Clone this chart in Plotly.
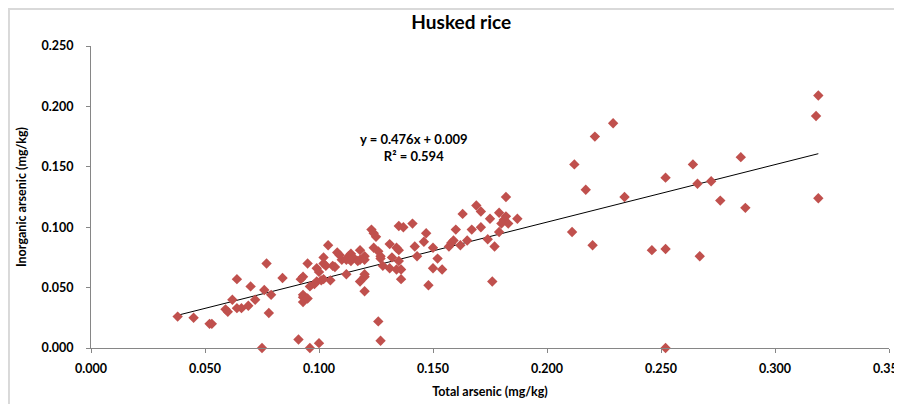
import plotly.graph_objects as go

total_arsenic = [
    0.038, 0.045, 0.052, 0.053, 0.059, 0.060, 0.062, 0.064, 0.064, 0.066,
    0.069, 0.070, 0.072, 0.076, 0.077, 0.078, 0.079, 0.075, 0.084, 0.091,
    0.096, 0.100, 0.092, 0.093, 0.095, 0.093, 0.093, 0.093, 0.095, 0.096,
    0.098, 0.099, 0.099, 0.100, 0.101, 0.102, 0.102, 0.102, 0.103, 0.104,
    0.105, 0.106, 0.107, 0.108, 0.109, 0.110, 0.112, 0.113, 0.114, 0.115,
    0.113, 0.112, 0.114, 0.118, 0.117, 0.118, 0.118, 0.120, 0.120, 0.120,
    0.120, 0.120, 0.123, 0.124, 0.125, 0.124, 0.126, 0.127, 0.126, 0.127,
    0.127, 0.128, 0.131, 0.131, 0.132, 0.134, 0.135, 0.135, 0.134, 0.136,
    0.137, 0.135, 0.136, 0.141, 0.142, 0.143, 0.146, 0.147, 0.148, 0.150,
    0.152, 0.150, 0.154, 0.157, 0.158, 0.159, 0.160, 0.162, 0.163, 0.165,
    0.167, 0.169, 0.171, 0.171, 0.174, 0.175, 0.176, 0.177, 0.179, 0.179,
    0.182, 0.181, 0.182, 0.183, 0.180, 0.187, 0.211, 0.212, 0.217, 0.220,
    0.221, 0.229, 0.234, 0.246, 0.252, 0.252, 0.252, 0.264, 0.266, 0.267,
    0.272, 0.276, 0.285, 0.287, 0.318, 0.319, 0.319,
]
inorganic_arsenic = [
    0.026, 0.025, 0.020, 0.020, 0.032, 0.030, 0.040, 0.057, 0.033, 0.033,
    0.035, 0.051, 0.040, 0.048, 0.070, 0.029, 0.044, 0.000, 0.058, 0.007,
    0.000, 0.004, 0.057, 0.059, 0.070, 0.044, 0.042, 0.038, 0.041, 0.051,
    0.053, 0.055, 0.066, 0.063, 0.056, 0.057, 0.075, 0.070, 0.068, 0.085,
    0.056, 0.068, 0.067, 0.079, 0.077, 0.073, 0.061, 0.076, 0.078, 0.075,
    0.074, 0.073, 0.072, 0.081, 0.072, 0.073, 0.055, 0.059, 0.047, 0.076,
    0.073, 0.061, 0.098, 0.095, 0.092, 0.083, 0.080, 0.076, 0.022, 0.006,
    0.074, 0.068, 0.086, 0.066, 0.075, 0.083, 0.081, 0.101, 0.065, 0.057,
    0.100, 0.072, 0.065, 0.103, 0.084, 0.076, 0.088, 0.095, 0.052, 0.083,
    0.074, 0.066, 0.065, 0.084, 0.087, 0.089, 0.098, 0.085, 0.111, 0.089,
    0.098, 0.118, 0.113, 0.100, 0.090, 0.107, 0.055, 0.084, 0.112, 0.096,
    0.125, 0.106, 0.109, 0.103, 0.103, 0.107, 0.096, 0.152, 0.131, 0.085,
    0.175, 0.186, 0.125, 0.081, 0.082, 0.141, 0.000, 0.152, 0.136, 0.076,
    0.138, 0.122, 0.158, 0.116, 0.192, 0.209, 0.124,
]

slope = 0.476
intercept = 0.009
r_squared = 0.594

x_ticks = [0.0, 0.05, 0.10, 0.15, 0.20, 0.25, 0.30, 0.35]
y_ticks = [0.0, 0.05, 0.10, 0.15, 0.20, 0.25]

FONT = "Lato"
RED = "#C0504D"
AXIS = "#868686"

x_min, x_max = min(total_arsenic), max(total_arsenic)
trend_x = [x_min, x_max]
trend_y = [slope * v + intercept for v in trend_x]

fig = go.Figure()
fig.add_trace(go.Scatter(
    x=trend_x, y=trend_y, mode="lines",
    line=dict(color="#000000", width=1), hoverinfo="skip", showlegend=False,
))
fig.add_trace(go.Scatter(
    x=total_arsenic, y=inorganic_arsenic, mode="markers",
    marker=dict(symbol="diamond", size=8, color=RED, line=dict(width=0)),
    showlegend=False, cliponaxis=False,
))

fig.add_annotation(
    x=0.1416, y=0.1656, xref="x", yref="y",
    text=f"<b>y = {slope:.3f}x + {intercept:.3f}</b><br><b>R² = {r_squared:.3f}</b>",
    showarrow=False, align="center",
    font=dict(family=FONT, size=13, color="#000000"),
)

# Chart outer border
fig.add_shape(
    type="rect", xref="paper", yref="paper",
    x0=-0.1028, x1=1.010, y0=-0.21, y1=1.1225,
    line=dict(color="#D9D9D9", width=2), fillcolor="rgba(0,0,0,0)", layer="below",
)

axis_common = dict(
    showgrid=False, zeroline=False, showline=True, linecolor=AXIS, linewidth=1,
    ticks="outside", ticklen=4, tickcolor=AXIS, tickformat=".3f", automargin=False,
    ticklabeloverflow="allow",
    tickfont=dict(family=FONT, size=12.5, color="#000000", weight="bold"),
)

fig.update_layout(
    width=894, height=396,
    margin=dict(l=83, r=13, t=38, b=56),
    paper_bgcolor="white", plot_bgcolor="white",
    title=dict(text="<b>Husked rice</b>", x=0.507, xanchor="center", y=0.965, yanchor="middle",
               font=dict(family=FONT, size=19, color="#000000")),
    xaxis=dict(range=[0, 0.35], tickvals=x_ticks, ticklabelstandoff=5,
               title=dict(text="<b>Total arsenic (mg/kg)</b>", standoff=12,
                          font=dict(family=FONT, size=12.5, color="#000000")),
               **axis_common),
    yaxis=dict(range=[0, 0.25], tickvals=y_ticks, ticklabelstandoff=10,
               title=dict(text="<b>Inorganic arsenic (mg/kg)</b>", standoff=12,
                          font=dict(family=FONT, size=12.5, color="#000000")),
               **axis_common),
)

fig.write_html("out.html")
